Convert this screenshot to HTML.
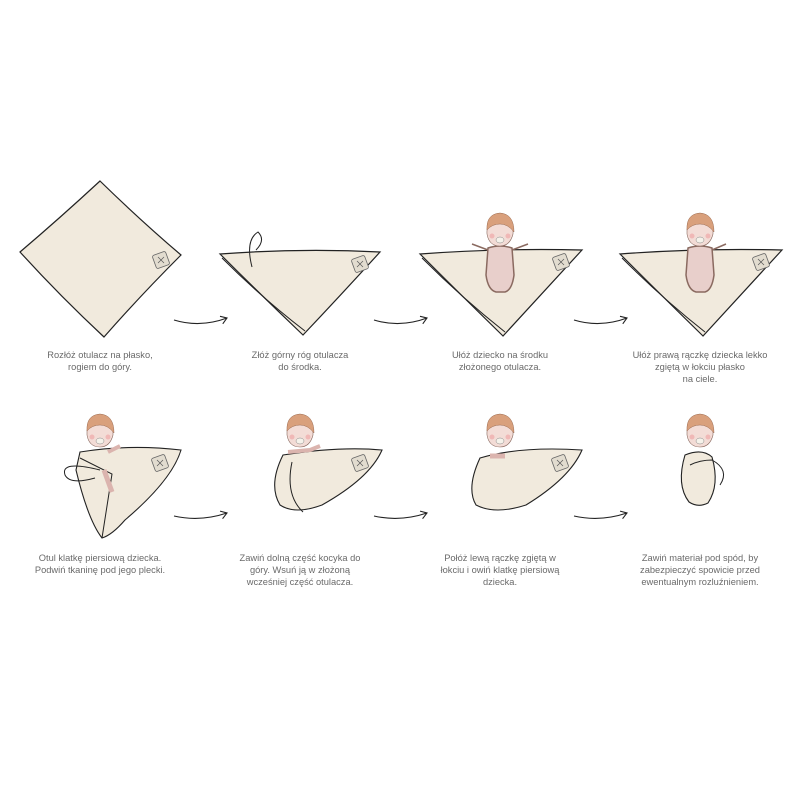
<!DOCTYPE html>
<html><head><meta charset="utf-8"><style>
html,body{margin:0;padding:0;background:#fff;width:800px;height:800px;overflow:hidden}
svg{display:block}
text{font-family:"Liberation Sans",sans-serif;font-size:9.3px;fill:#6a6a6a;text-anchor:middle}
</style></head><body>
<svg width="800" height="800" viewBox="0 0 800 800">
<defs>
<g id="baby">
  <path d="M-13,2 Q-14,-14 0,-16 Q14,-15 13,2 Q10,14 0,14 Q-11,14 -13,2Z" fill="#f3dcd6" stroke="#8a6a60" stroke-width="0.6"/>
  <path d="M-13,-2 Q-14,-18 0,-19 Q14,-18 14,0 Q8,-8 0,-8 Q-8,-8 -13,-2Z" fill="#d9a07c" stroke="#9a6a50" stroke-width="0.5"/>
  <ellipse cx="0" cy="8" rx="4" ry="3" fill="#f6f2ea" stroke="#888" stroke-width="0.5"/>
  <circle cx="-8" cy="4" r="2.5" fill="#f0b8b6"/><circle cx="8" cy="4" r="2.5" fill="#f0b8b6"/>
</g>
<g id="logo"><rect x="-7" y="-7" width="14" height="14" rx="2" fill="#e2dccf" stroke="#666" stroke-width="0.8" transform="rotate(-20)"/><path d="M-3,-3 L3,3 M3,-3 L-3,3" stroke="#555" stroke-width="0.7"/></g>
<marker id="ah" markerWidth="10" markerHeight="10" refX="7" refY="5" orient="auto" markerUnits="userSpaceOnUse"><path d="M1,1 L7,5 L1,9" fill="none" stroke="#222" stroke-width="1.1"/></marker>
</defs>
<g fill="none" stroke="#222" stroke-width="1.1" marker-end="url(#ah)">
<path d="M174,320 Q200,328 227,318"/><path d="M374,320 Q400,328 427,318"/><path d="M574,320 Q600,328 627,318"/>
<path d="M174,516 Q200,522 227,513"/><path d="M374,516 Q400,522 427,513"/><path d="M574,516 Q600,522 627,513"/>
</g>
<!-- panel 1 -->
<path d="M100,181 Q140,220 181,255 Q140,296 104,337 Q60,296 20,252 Q60,218 100,181Z" fill="#f1eadd" stroke="#222" stroke-width="1.2"/>
<use href="#logo" x="161" y="260"/>
<!-- panel 2 -->
<path d="M220,254 Q300,248 380,252 Q340,296 303,335 Q260,294 220,254Z" fill="#f1eadd" stroke="#222" stroke-width="1.2"/>
<path d="M222,258 Q262,298 305,331" fill="none" stroke="#222" stroke-width="1"/>
<use href="#logo" x="360" y="264"/>
<path d="M252,267 Q245,240 258,232 Q266,240 256,250" fill="none" stroke="#222" stroke-width="1"/>
<!-- panel 3 -->
<path d="M420,254 Q500,248 582,250 Q540,296 503,336 Q460,294 420,254Z" fill="#f1eadd" stroke="#222" stroke-width="1.2"/>
<path d="M422,258 Q462,298 505,332" fill="none" stroke="#222" stroke-width="1"/>
<use href="#logo" x="561" y="262"/>
<path d="M488,248 Q500,244 512,248 L514,275 Q512,290 505,292 L496,292 Q488,290 486,275Z M488,250 L472,244 M512,250 L528,244" fill="#e8cfcb" stroke="#8a6a60" stroke-width="1.5"/>
<use href="#baby" x="500" y="232"/>
<!-- panel 4 -->
<path d="M620,254 Q700,248 782,250 Q740,296 703,336 Q660,294 620,254Z" fill="#f1eadd" stroke="#222" stroke-width="1.2"/>
<path d="M622,258 Q662,298 705,332" fill="none" stroke="#222" stroke-width="1"/>
<use href="#logo" x="761" y="262"/>
<path d="M688,248 Q700,244 712,248 L714,275 Q712,290 705,292 L696,292 Q688,290 686,275Z M712,250 L726,244" fill="#e8cfcb" stroke="#8a6a60" stroke-width="1.5"/>
<use href="#baby" x="700" y="232"/>
<!-- panel 5 -->
<path d="M80,452 Q130,444 181,450 Q172,480 125,520 Q112,535 102,538 Q88,520 76,470Z" fill="#f1eadd" stroke="#222" stroke-width="1.1"/>
<path d="M80,458 Q100,468 112,474 L102,538" fill="none" stroke="#222" stroke-width="1"/>
<path d="M100,470 Q60,460 65,475 Q70,485 95,478" fill="none" stroke="#222" stroke-width="1"/>
<path d="M104,470 L112,492" stroke="#dbb4ae" stroke-width="5"/>
<path d="M108,452 L120,446" stroke="#dbb4ae" stroke-width="4"/>
<use href="#logo" x="160" y="463"/>
<use href="#baby" x="100" y="433"/>
<!-- panel 6 -->
<path d="M283,455 Q340,446 382,450 Q370,478 322,505 Q295,515 280,505 Q268,485 283,455Z" fill="#f1eadd" stroke="#222" stroke-width="1.1"/>
<path d="M292,462 Q285,495 303,512" fill="none" stroke="#222" stroke-width="1"/>
<path d="M288,452 L310,450 L320,446" stroke="#dbb4ae" stroke-width="4" fill="none"/>
<use href="#logo" x="360" y="463"/>
<use href="#baby" x="300" y="433"/>
<!-- panel 7 -->
<path d="M480,458 Q520,446 582,450 Q570,478 526,505 Q495,515 476,505 Q466,488 480,458Z" fill="#f1eadd" stroke="#222" stroke-width="1.1"/>
<path d="M490,456 L505,456" stroke="#dbb4ae" stroke-width="5"/>
<use href="#logo" x="560" y="463"/>
<use href="#baby" x="500" y="433"/>
<!-- panel 8 -->
<path d="M685,455 Q702,448 712,457 Q720,485 708,503 Q698,508 689,502 Q676,485 685,455Z" fill="#f1eadd" stroke="#222" stroke-width="1.1"/>
<path d="M712,460 Q730,470 720,485 M712,460 Q700,460 690,465" fill="none" stroke="#222" stroke-width="1"/>
<use href="#baby" x="700" y="433"/>
<!-- captions -->
<text x="100" y="358">Rozłóż otulacz na płasko,</text><text x="100" y="370">rogiem do góry.</text>
<text x="300" y="358">Złóż górny róg otulacza</text><text x="300" y="370">do środka.</text>
<text x="500" y="358">Ułóż dziecko na środku</text><text x="500" y="370">złożonego otulacza.</text>
<text x="700" y="358">Ułóż prawą rączkę dziecka lekko</text><text x="700" y="370">zgiętą w łokciu płasko</text><text x="700" y="382">na ciele.</text>
<text x="100" y="561">Otul klatkę piersiową dziecka.</text><text x="100" y="573">Podwiń tkaninę pod jego plecki.</text>
<text x="300" y="561">Zawiń dolną część kocyka do</text><text x="300" y="573">góry. Wsuń ją w złożoną</text><text x="300" y="585">wcześniej część otulacza.</text>
<text x="500" y="561">Połóż lewą rączkę zgiętą w</text><text x="500" y="573">łokciu i owiń klatkę piersiową</text><text x="500" y="585">dziecka.</text>
<text x="700" y="561">Zawiń materiał pod spód, by</text><text x="700" y="573">zabezpieczyć spowicie przed</text><text x="700" y="585">ewentualnym rozluźnieniem.</text>
</svg>
</body></html>
